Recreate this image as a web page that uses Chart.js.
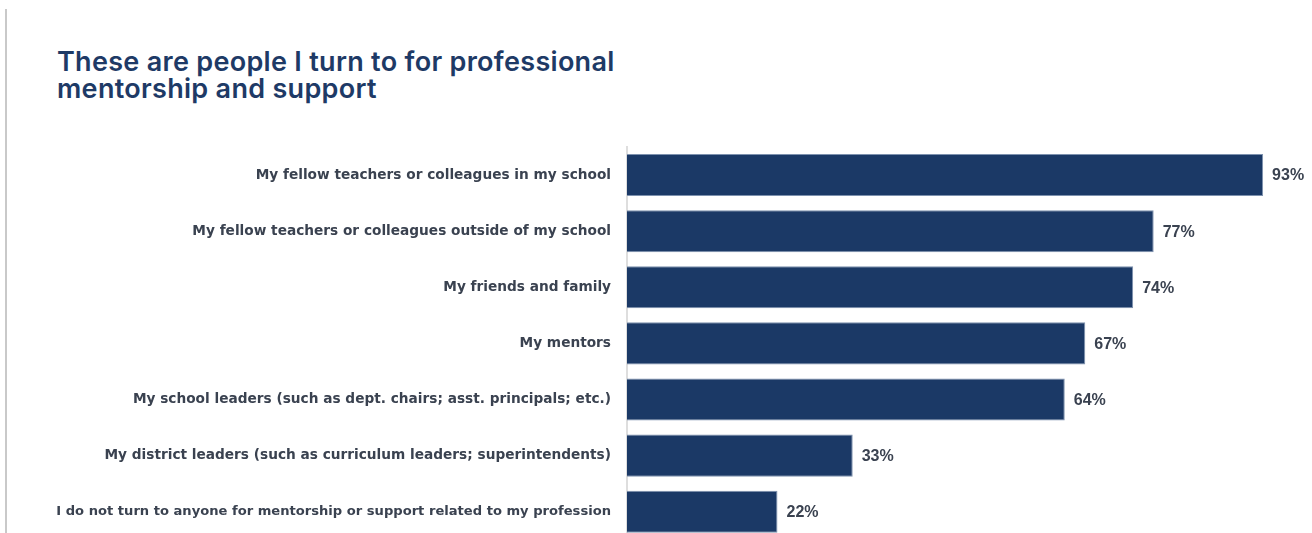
<!DOCTYPE html>
<html>
<head>
<meta charset="utf-8">
<script src="https://cdn.jsdelivr.net/npm/chart.js@4"></script>
<style>
    html, body { margin: 0; padding: 0; background: #fff; overflow: hidden; }
    #wrap { position: relative; width: 1312px; height: 533px; overflow: hidden; }
    #edge { position: absolute; left: 5px; top: 9px; width: 2px; bottom: 0; background: #c9c9c9; }
    #title {
        position: absolute; left: 57px; top: 48px;
        font-family: Inter, "Open Sans", sans-serif; font-weight: 600;
        font-size: 27px; line-height: 27px; letter-spacing: 0.3px; color: #1e3a66;
    }
    #graphic { position: absolute; left: 0; top: 0; }
</style>
</head>
<body>
<div id="wrap">
    <div id="edge"></div>
    <div id="title">These are people I turn to for professional<br>mentorship and support</div>
    <canvas id="graphic" width="1312" height="556"></canvas>
</div>
<script>
const categories = [
    'My fellow teachers or colleagues in my school',
    'My fellow teachers or colleagues outside of my school',
    'My friends and family',
    'My mentors',
    'My school leaders (such as dept. chairs; asst. principals; etc.)',
    'My district leaders (such as curriculum leaders; superintendents)',
    'I do not turn to anyone for mentorship or support related to my profession'
];
const percentages = [93, 77, 74, 67, 64, 33, 22];

// writes "93%" etc. just past the end of each bar
const valueLabels = {
    id: 'valueLabels',
    afterDatasetsDraw(chart) {
        const ctx = chart.ctx;
        const meta = chart.getDatasetMeta(0);
        ctx.save();
        ctx.font = 'bold 16px "Liberation Sans", sans-serif';
        ctx.fillStyle = '#3a4250';
        ctx.textAlign = 'left';
        ctx.textBaseline = 'middle';
        meta.data.forEach((bar, i) => {
            ctx.fillText(percentages[i] + '%', bar.x + 9, bar.y + 1);
        });
        ctx.restore();
    }
};

const graphic = document.getElementById('graphic');
new Chart(graphic, {
    type: 'bar',
    data: {
        labels: categories,
        datasets: [{
            data: percentages,
            backgroundColor: '#1b3966',
            borderColor: '#7d91ae',
            borderWidth: 1,
            categoryPercentage: 1,
            barPercentage: 0.75
        }]
    },
    options: {
        indexAxis: 'y',
        responsive: false,
        animation: false,
        layout: { padding: { top: 147, bottom: 5, right: 1, left: 0 } },
        plugins: {
            legend: { display: false },
            tooltip: { enabled: false }
        },
        scales: {
            x: {
                display: false,
                min: 0,
                max: 100
            },
            y: {
                afterFit(scale) { scale.width = 627; },
                grid: { display: false },
                border: { display: true, color: '#dedede', width: 2 },
                ticks: {
                    padding: 8,
                    color: '#3a4250',
                    // the longest label is set a touch smaller so it fits
                    font: (ctx) => ({
                        family: '"DejaVu Sans", sans-serif',
                        size: ctx.index === 6 ? 13.1 : 13.7,
                        weight: 'bold'
                    })
                }
            }
        }
    },
    plugins: [valueLabels]
});
</script>
</body>
</html>
